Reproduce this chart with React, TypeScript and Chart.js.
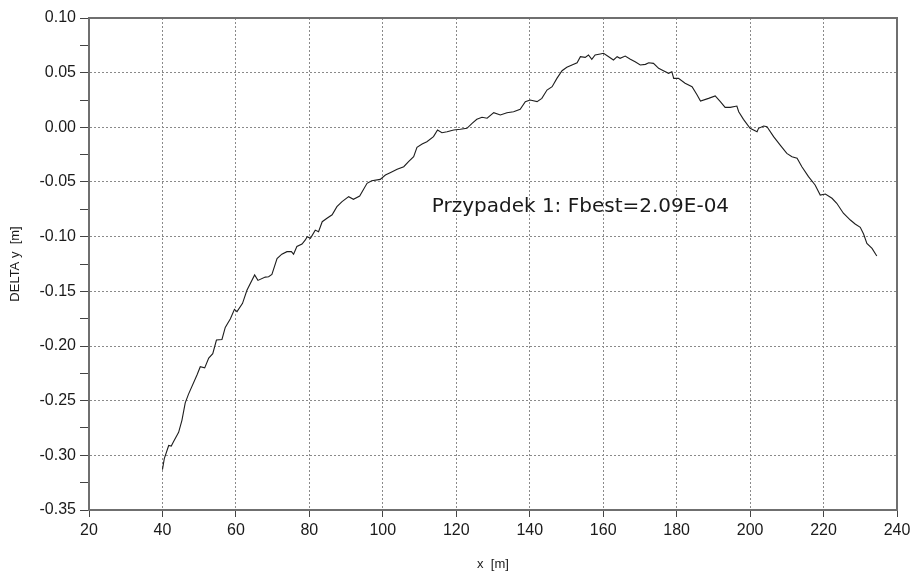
import React, { useEffect, useRef } from "react";
import { Chart, registerables } from "chart.js";

Chart.register(...registerables);

// ---- data ----
const xPos: number[] = [
  40.0, 40.5, 41.7, 42.4, 43.0, 44.4, 45.3, 46.2, 47.1, 49.4, 50.3, 51.5, 52.6, 53.7, 54.7, 56.2, 57.1, 58.5, 59.6, 60.3,
  61.8, 63.0, 65.1, 66.0, 68.0, 68.9, 69.8, 71.2, 72.5, 73.9, 75.1, 75.7, 76.6, 78.0, 78.9, 79.4, 80.3, 81.6, 82.5, 83.5,
  84.8, 86.2, 87.5, 88.9, 90.7, 92.0, 93.7, 95.7, 97.0, 99.3, 100.7, 102.0, 103.9, 105.7, 107.0, 108.4, 109.3, 110.7, 112.0, 113.8,
  114.9, 116.1, 117.5, 119.3, 121.1, 122.9, 124.3, 125.6, 127.0, 128.4, 130.2, 132.0, 133.8, 135.6, 137.4, 138.8, 140.1, 142.0, 143.3, 144.7,
  146.1, 147.4, 148.8, 150.1, 151.5, 152.9, 153.8, 155.1, 156.0, 156.9, 157.8, 159.2, 160.1, 161.5, 162.8, 163.8, 164.6, 166.0, 167.4, 168.7,
  170.1, 171.5, 172.4, 173.7, 175.1, 176.4, 177.8, 178.7, 179.2, 180.5, 182.3, 184.2, 185.5, 186.5, 188.7, 190.5, 191.9, 193.2, 194.6, 196.4,
  196.9, 198.2, 200.0, 201.9, 202.3, 203.7, 204.6, 206.4, 208.2, 210.0, 211.4, 212.8, 214.1, 215.9, 217.7, 219.1, 220.5, 222.3, 223.6, 225.4,
  227.3, 228.6, 230.0, 230.9, 231.8, 233.2, 234.5,
];

const deltaY: number[] = [
  -0.313, -0.303, -0.291, -0.2915, -0.2875, -0.279, -0.268, -0.252, -0.244, -0.2265, -0.219, -0.22, -0.211, -0.207, -0.1945, -0.194, -0.183, -0.175, -0.1665, -0.1685,
  -0.161, -0.149, -0.135, -0.14, -0.137, -0.1366, -0.1345, -0.12, -0.116, -0.1137, -0.1137, -0.116, -0.109, -0.1067, -0.103, -0.1, -0.1015, -0.094, -0.0954, -0.0863,
  -0.0832, -0.08, -0.0726, -0.068, -0.0634, -0.0658, -0.0628, -0.0512, -0.0488, -0.0476, -0.0436, -0.0415, -0.0384, -0.036, -0.0314, -0.0269, -0.0183, -0.0152, -0.0131, -0.0085,
  -0.0024, -0.0049, -0.004, -0.0024, -0.0018, -0.0009, 0.0037, 0.0073, 0.0092, 0.0083, 0.0134, 0.0113, 0.0134, 0.0143, 0.0165, 0.0235, 0.025, 0.0235, 0.0265, 0.0341,
  0.0372, 0.0448, 0.0518, 0.0549, 0.057, 0.0591, 0.0646, 0.064, 0.0662, 0.0622, 0.0662, 0.0671, 0.0677, 0.0646, 0.0616, 0.0646, 0.0631, 0.0652, 0.0622, 0.06,
  0.057, 0.0576, 0.0591, 0.0585, 0.054, 0.0518, 0.0494, 0.0509, 0.0448, 0.0448, 0.0403, 0.0372, 0.03, 0.024, 0.0265, 0.0287, 0.0235, 0.0183, 0.0183, 0.0195,
  0.0143, 0.0073, -0.0009, -0.004, -0.0009, 0.0012, 0.0006, -0.0085, -0.0162, -0.0238, -0.0269, -0.0283, -0.036, -0.0451, -0.0527, -0.0619, -0.061, -0.0649, -0.0695, -0.0786,
  -0.0848, -0.0884, -0.0914, -0.0976, -0.1061, -0.1107, -0.1177,
];

const xAxisRange = [20, 240];
const xTickStep = 20;
const yAxisRange = [-0.35, 0.1];
const yMajorStep = 0.05;
const yMinorStep = 0.025;

const xTitle = "x  [m]";
const yTitle = "DELTA y  [m]";
const annotationText = "Przypadek 1: Fbest=2.09E-04";
const annotationAt = [153.8, -0.0725];

// ---- styles ----
const AXIS_COLOR = "#6f6f6f";
const GRID_COLOR = "#8a8a8a";
const TEXT_COLOR = "#1a1a1a";
const LABEL_FONT = "'Liberation Sans', Arial, sans-serif";

const framePlugin = {
  id: "frameAndNote",
  afterDraw(chart: any) {
    const { ctx, chartArea, scales } = chart;
    ctx.save();
    ctx.setLineDash([]);
    ctx.strokeStyle = AXIS_COLOR;
    ctx.lineWidth = 2;
    ctx.beginPath();
    ctx.moveTo(chartArea.left, chartArea.top);
    ctx.lineTo(chartArea.right, chartArea.top);
    ctx.lineTo(chartArea.right, chartArea.bottom);
    ctx.stroke();

    ctx.fillStyle = TEXT_COLOR;
    ctx.font = "20px 'DejaVu Sans', Verdana, sans-serif";
    ctx.textAlign = "center";
    ctx.textBaseline = "middle";
    ctx.fillText(
      annotationText,
      scales.x.getPixelForValue(annotationAt[0]),
      scales.y.getPixelForValue(annotationAt[1])
    );
    ctx.restore();
  },
};

const isMinor = (v: number) => Math.round(v * 1000) % Math.round(yMajorStep * 1000) !== 0;

export default function App() {
  const canvasRef = useRef<HTMLCanvasElement | null>(null);

  useEffect(() => {
    const canvas = canvasRef.current;
    if (!canvas) return;
    const points = xPos.map((x, i) => ({ x, y: deltaY[i] }));

    const chart = new Chart(canvas, {
      type: "scatter",
      data: {
        datasets: [
          {
            data: points,
            showLine: true,
            borderColor: "#1e1e1e",
            borderWidth: 1.1,
            pointRadius: 0,
            pointHoverRadius: 0,
            tension: 0,
            fill: false,
          },
        ],
      },
      options: {
        animation: false,
        responsive: false,
        maintainAspectRatio: false,
        layout: { padding: { left: 0, right: 14, top: 18, bottom: 0 } },
        plugins: {
          legend: { display: false },
          tooltip: { enabled: false },
          title: { display: false },
        },
        scales: {
          x: {
            type: "linear",
            min: xAxisRange[0],
            max: xAxisRange[1],
            afterFit: (s: any) => {
              s.height = 66;
              s.paddingRight = 0;
              s.paddingLeft = 0;
            },
            ticks: {
              stepSize: xTickStep,
              color: TEXT_COLOR,
              font: { family: LABEL_FONT, size: 16 },
              padding: 4,
              maxRotation: 0,
              autoSkip: false,
              callback: (v: any) => String(Math.round(Number(v))),
            },
            grid: {
              color: GRID_COLOR,
              lineWidth: 1,
              tickColor: "#444",
              tickLength: 7,
              tickBorderDash: [],
              drawTicks: true,
            },
            border: { display: true, color: AXIS_COLOR, width: 2, dash: [2, 2] },
            title: {
              display: true,
              text: xTitle,
              color: TEXT_COLOR,
              font: { family: LABEL_FONT, size: 13 },
              padding: { top: 0, bottom: 4 },
            },
          },
          y: {
            type: "linear",
            min: yAxisRange[0],
            max: yAxisRange[1],
            afterFit: (s: any) => {
              s.width = 89;
            },
            ticks: {
              stepSize: yMinorStep,
              autoSkip: false,
              color: TEXT_COLOR,
              font: { family: LABEL_FONT, size: 16 },
              padding: 4,
              callback: (v: any) => (isMinor(Number(v)) ? "" : Number(v).toFixed(2)),
            },
            grid: {
              color: (c: any) => (c.tick && isMinor(c.tick.value) ? "rgba(0,0,0,0)" : GRID_COLOR),
              lineWidth: 1,
              tickColor: "#444",
              tickLength: 9,
              tickBorderDash: [],
            },
            border: { display: true, color: AXIS_COLOR, width: 2, dash: [2, 2] },
            title: {
              display: true,
              text: yTitle,
              color: TEXT_COLOR,
              font: { family: LABEL_FONT, size: 13 },
              padding: { top: 8, bottom: 0 },
            },
          },
        },
      },
      plugins: [framePlugin],
    } as any);

    return () => chart.destroy();
  }, []);

  return (
    <div style={{ position: "absolute", left: 0, top: 0, width: 911, height: 576, background: "#fff" }}>
      <canvas ref={canvasRef} width={911} height={576} style={{ width: 911, height: 576, display: "block" }} />
    </div>
  );
}
